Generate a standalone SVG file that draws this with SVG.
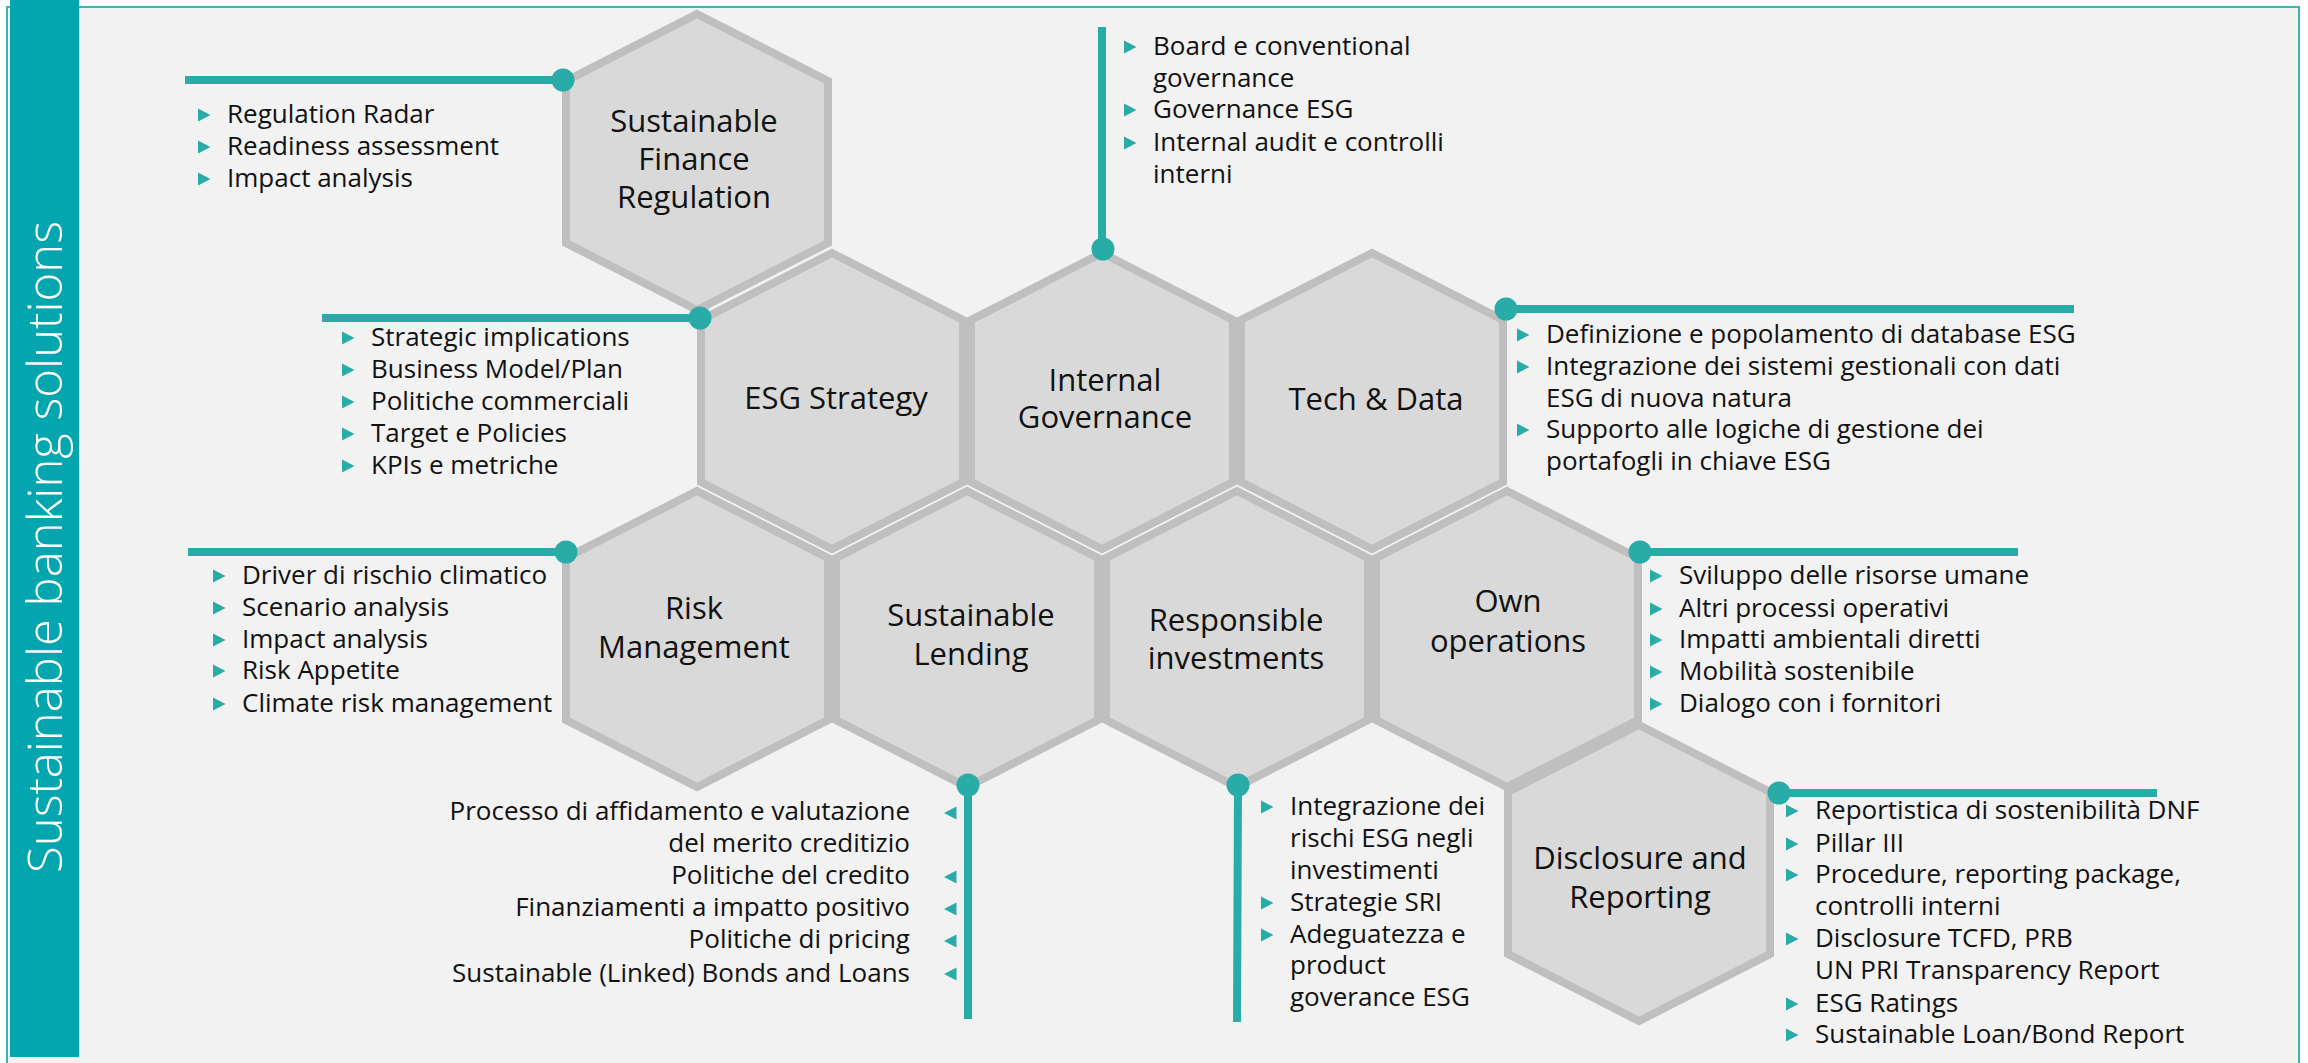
<svg xmlns="http://www.w3.org/2000/svg" xmlns:xlink="http://www.w3.org/1999/xlink" width="2308" height="1063" viewBox="0 0 2308 1063">
<style>
.hex{fill:#d9d9d9;stroke:#bfbfbf;stroke-width:8;stroke-linejoin:miter}
.hl{font-family:'Open Sans','Liberation Sans',sans-serif;font-size:31px;fill:#111;text-anchor:middle}
.bl{font-family:'Open Sans','Liberation Sans',sans-serif;font-size:26px;fill:#111}
.br{font-family:'Open Sans','Liberation Sans',sans-serif;font-size:26px;fill:#111;text-anchor:end}
.conn{stroke:#29aca8;stroke-width:8;fill:none}
.dot{fill:#29aca8}
.tri{fill:#29aca8}
</style>
<defs>
<path id="tr" d="M0,-6.5L12.5,0L0,6.5Z"/>
<path id="tl" d="M12.5,-6.5L0,0L12.5,6.5Z"/>
</defs>
<rect x="0" y="0" width="2308" height="1063" fill="#ffffff"/>
<rect x="7" y="7" width="2292" height="1060" fill="#f2f2f2" stroke="#3db4b0" stroke-width="2"/>
<g id="title-bar">
<rect x="10" y="0" width="69" height="1057" fill="#03a6ae"/>
<text transform="translate(62,547) rotate(-90)" text-anchor="middle" font-family="'Open Sans','Liberation Sans',sans-serif" font-weight="300" font-size="48" fill="#ffffff" textLength="652" lengthAdjust="spacingAndGlyphs">Sustainable banking solutions</text>
</g>

<g id="node-sfr">
<polygon class="hex" points="697,14 828,81 828,243 697,310 566,243 566,81"/>
<text class="hl" x="694" y="132">Sustainable</text>
<text class="hl" x="694" y="170">Finance</text>
<text class="hl" x="694" y="208">Regulation</text>
<g class="tri"><use href="#tr" x="198" y="115"/><use href="#tr" x="198" y="147"/><use href="#tr" x="198" y="179"/></g>
<text class="bl" x="227" y="123">Regulation Radar</text>
<text class="bl" x="227" y="155">Readiness assessment</text>
<text class="bl" x="227" y="187">Impact analysis</text>
</g>

<g id="node-esg-strategy">
<polygon class="hex" points="832,253 963,320 963,482 832,549 701,482 701,320"/>
<text class="hl" x="836" y="409">ESG Strategy</text>
<g class="tri"><use href="#tr" x="342" y="338"/><use href="#tr" x="342" y="370"/><use href="#tr" x="342" y="402"/><use href="#tr" x="342" y="434"/><use href="#tr" x="342" y="466"/></g>
<text class="bl" x="371" y="346">Strategic implications</text>
<text class="bl" x="371" y="378">Business Model/Plan</text>
<text class="bl" x="371" y="410">Politiche commerciali</text>
<text class="bl" x="371" y="442">Target e Policies</text>
<text class="bl" x="371" y="474">KPIs e metriche</text>
</g>

<g id="node-internal-governance">
<polygon class="hex" points="1102,253 1233,320 1233,482 1102,549 971,482 971,320"/>
<text class="hl" x="1105" y="391">Internal</text>
<text class="hl" x="1105" y="428">Governance</text>
<g class="tri"><use href="#tr" x="1124" y="47"/><use href="#tr" x="1124" y="110"/><use href="#tr" x="1124" y="143"/></g>
<text class="bl" x="1153" y="55">Board e conventional</text>
<text class="bl" x="1153" y="87">governance</text>
<text class="bl" x="1153" y="118">Governance ESG</text>
<text class="bl" x="1153" y="151">Internal audit e controlli</text>
<text class="bl" x="1153" y="183">interni</text>
</g>

<g id="node-tech-data">
<polygon class="hex" points="1372,253 1503,320 1503,482 1372,549 1241,482 1241,320"/>
<text class="hl" x="1376" y="410">Tech &amp; Data</text>
<g class="tri"><use href="#tr" x="1517" y="335"/><use href="#tr" x="1517" y="367"/><use href="#tr" x="1517" y="430"/></g>
<text class="bl" x="1546" y="343">Definizione e popolamento di database ESG</text>
<text class="bl" x="1546" y="375">Integrazione dei sistemi gestionali con dati</text>
<text class="bl" x="1546" y="407">ESG di nuova natura</text>
<text class="bl" x="1546" y="438">Supporto alle logiche di gestione dei</text>
<text class="bl" x="1546" y="470">portafogli in chiave ESG</text>
</g>

<g id="node-risk-management">
<polygon class="hex" points="697,491 828,558 828,720 697,787 566,720 566,558"/>
<text class="hl" x="694" y="619">Risk</text>
<text class="hl" x="694" y="658">Management</text>
<g class="tri"><use href="#tr" x="213" y="576"/><use href="#tr" x="213" y="608"/><use href="#tr" x="213" y="640"/><use href="#tr" x="213" y="671"/><use href="#tr" x="213" y="704"/></g>
<text class="bl" x="242" y="584">Driver di rischio climatico</text>
<text class="bl" x="242" y="616">Scenario analysis</text>
<text class="bl" x="242" y="648">Impact analysis</text>
<text class="bl" x="242" y="679">Risk Appetite</text>
<text class="bl" x="242" y="712">Climate risk management</text>
</g>

<g id="node-sustainable-lending">
<polygon class="hex" points="967,491 1098,558 1098,720 967,787 836,720 836,558"/>
<text class="hl" x="971" y="626">Sustainable</text>
<text class="hl" x="971" y="665">Lending</text>
<g class="tri"><use href="#tl" x="944" y="813"/><use href="#tl" x="944" y="877"/><use href="#tl" x="944" y="909"/><use href="#tl" x="944" y="941"/><use href="#tl" x="944" y="974"/></g>
<text class="br" x="910" y="820">Processo di affidamento e valutazione</text>
<text class="br" x="910" y="852">del merito creditizio</text>
<text class="br" x="910" y="884">Politiche del credito</text>
<text class="br" x="910" y="916">Finanziamenti a impatto positivo</text>
<text class="br" x="910" y="948">Politiche di pricing</text>
<text class="br" x="910" y="982">Sustainable (Linked) Bonds and Loans</text>
</g>

<g id="node-responsible-investments">
<polygon class="hex" points="1237,491 1368,558 1368,720 1237,787 1106,720 1106,558"/>
<text class="hl" x="1236" y="631">Responsible</text>
<text class="hl" x="1236" y="669">investments</text>
<g class="tri"><use href="#tr" x="1261" y="807"/><use href="#tr" x="1261" y="903"/><use href="#tr" x="1261" y="935"/></g>
<text class="bl" x="1290" y="815">Integrazione dei</text>
<text class="bl" x="1290" y="847">rischi ESG negli</text>
<text class="bl" x="1290" y="879">investimenti</text>
<text class="bl" x="1290" y="911">Strategie SRI</text>
<text class="bl" x="1290" y="943">Adeguatezza e</text>
<text class="bl" x="1290" y="974">product</text>
<text class="bl" x="1290" y="1006">goverance ESG</text>
</g>

<g id="node-own-operations">
<polygon class="hex" points="1507,491 1638,558 1638,720 1507,787 1376,720 1376,558"/>
<text class="hl" x="1508" y="612">Own</text>
<text class="hl" x="1508" y="652">operations</text>
<g class="tri"><use href="#tr" x="1650" y="576"/><use href="#tr" x="1650" y="609"/><use href="#tr" x="1650" y="640"/><use href="#tr" x="1650" y="672"/><use href="#tr" x="1650" y="704"/></g>
<text class="bl" x="1679" y="584">Sviluppo delle risorse umane</text>
<text class="bl" x="1679" y="617">Altri processi operativi</text>
<text class="bl" x="1679" y="648">Impatti ambientali diretti</text>
<text class="bl" x="1679" y="680">Mobilità sostenibile</text>
<text class="bl" x="1679" y="712">Dialogo con i fornitori</text>
</g>

<g id="node-disclosure-reporting">
<polygon class="hex" points="1639,725 1770,792 1770,954 1639,1021 1508,954 1508,792"/>
<text class="hl" x="1640" y="869">Disclosure and</text>
<text class="hl" x="1640" y="908">Reporting</text>
<g class="tri"><use href="#tr" x="1786" y="811"/><use href="#tr" x="1786" y="844"/><use href="#tr" x="1786" y="875"/><use href="#tr" x="1786" y="939"/><use href="#tr" x="1786" y="1004"/><use href="#tr" x="1786" y="1035"/></g>
<text class="bl" x="1815" y="819">Reportistica di sostenibilità DNF</text>
<text class="bl" x="1815" y="852">Pillar III</text>
<text class="bl" x="1815" y="883">Procedure, reporting package,</text>
<text class="bl" x="1815" y="915">controlli interni</text>
<text class="bl" x="1815" y="947">Disclosure TCFD, PRB</text>
<text class="bl" x="1815" y="979">UN PRI Transparency Report</text>
<text class="bl" x="1815" y="1012">ESG Ratings</text>
<text class="bl" x="1815" y="1043">Sustainable Loan/Bond Report</text>
</g>

<g id="connectors">
<line class="conn" x1="185" y1="80" x2="563" y2="80"/>
<line class="conn" x1="322" y1="318" x2="700" y2="318"/>
<line class="conn" x1="1102" y1="27" x2="1102" y2="249"/>
<line class="conn" x1="1506" y1="309" x2="2074" y2="309"/>
<line class="conn" x1="188" y1="552" x2="566" y2="552"/>
<line class="conn" x1="1640" y1="552" x2="2018" y2="552"/>
<line class="conn" x1="968" y1="785" x2="968" y2="1019"/>
<line class="conn" x1="1238" y1="785" x2="1237" y2="1022"/>
<line class="conn" x1="1779" y1="793" x2="2157" y2="793"/>
<circle class="dot" cx="563" cy="80" r="11.5"/>
<circle class="dot" cx="700" cy="318" r="11.5"/>
<circle class="dot" cx="1103" cy="249" r="11.5"/>
<circle class="dot" cx="1506" cy="309" r="11.5"/>
<circle class="dot" cx="566" cy="552" r="11.5"/>
<circle class="dot" cx="1640" cy="552" r="11.5"/>
<circle class="dot" cx="968" cy="785" r="11.5"/>
<circle class="dot" cx="1238" cy="785" r="11.5"/>
<circle class="dot" cx="1779" cy="793" r="11.5"/>
</g>
</svg>
